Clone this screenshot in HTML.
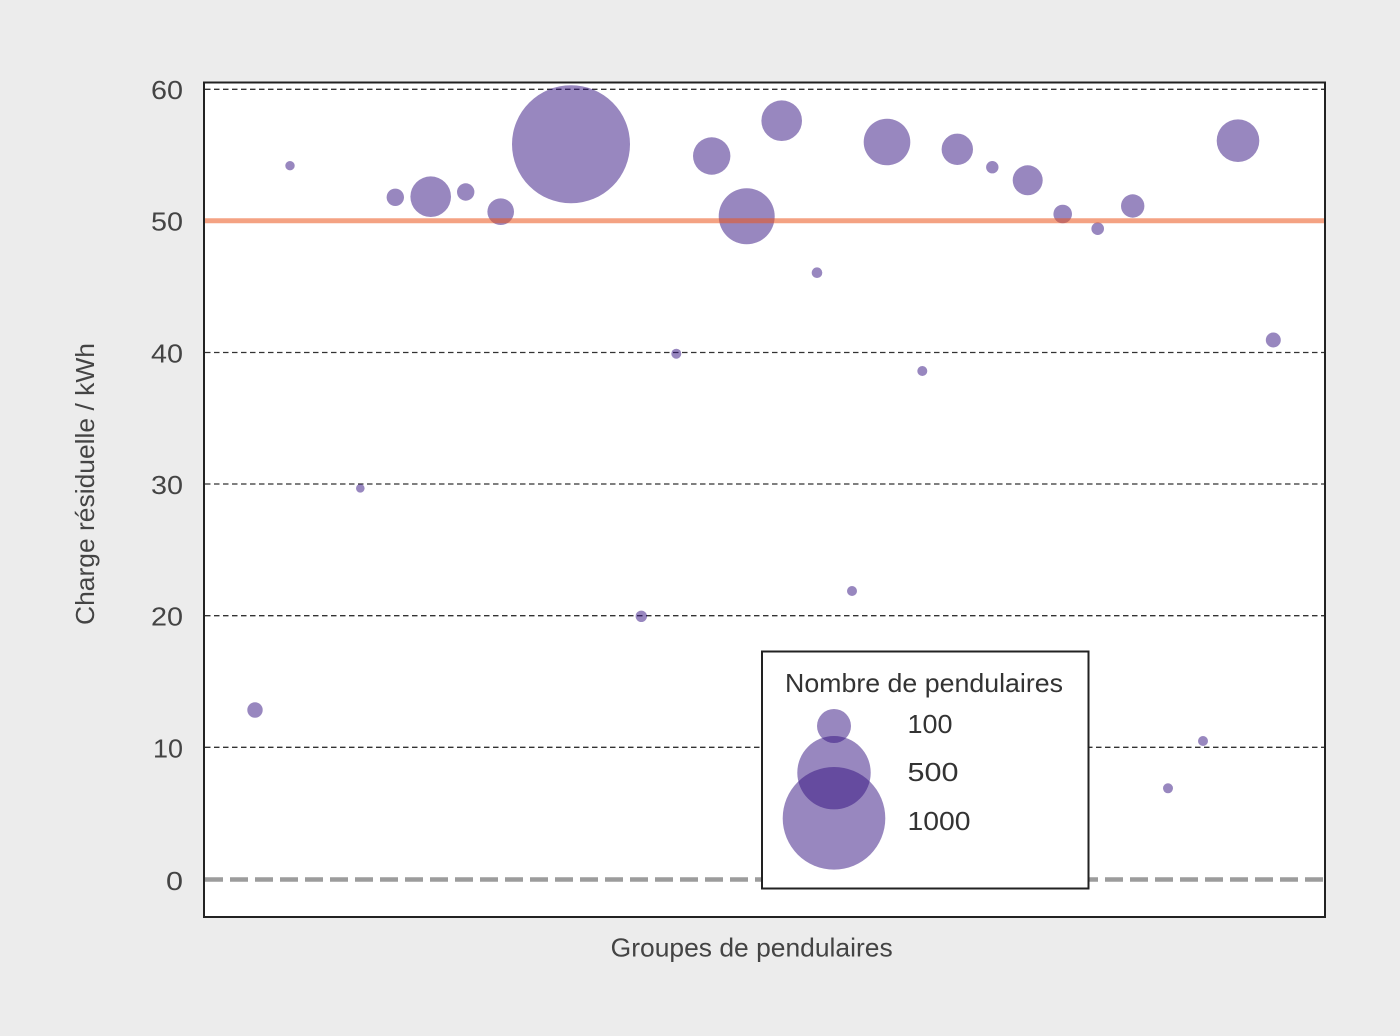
<!DOCTYPE html>
<html>
<head>
<meta charset="utf-8">
<style>
  html, body { margin: 0; padding: 0; background: #ececec; }
  svg { display: block; }
  text { font-family: "Liberation Sans", "DejaVu Sans", sans-serif; }
</style>
</head>
<body>
<svg width="1400" height="1036" viewBox="0 0 1400 1036" xmlns="http://www.w3.org/2000/svg">
  <rect x="0" y="0" width="1400" height="1036" fill="#ececec"/>
  <!-- plot area -->
  <rect x="204" y="82.5" width="1121" height="834.5" fill="#ffffff"/>

  <!-- grid lines -->
  <g stroke="#333" stroke-width="1.3" stroke-dasharray="5.5 3.5" fill="none">
    <line x1="205" y1="89.3" x2="1324" y2="89.3"/>
    <line x1="205" y1="352.5" x2="1324" y2="352.5"/>
    <line x1="205" y1="484" x2="1324" y2="484"/>
    <line x1="205" y1="615.7" x2="1324" y2="615.7"/>
    <line x1="205" y1="747.3" x2="1324" y2="747.3"/>
  </g>
  <!-- zero line -->
  <line x1="205" y1="879.5" x2="1324" y2="879.5" stroke="#9c9c9c" stroke-width="4.5" stroke-dasharray="18 7"/>

  <!-- bubbles -->
  <g fill="rgb(49,15,127)" fill-opacity="0.5">
    <circle cx="255" cy="710" r="7.7"/>
    <circle cx="290" cy="165.7" r="4.7"/>
    <circle cx="360.3" cy="488.3" r="4.3"/>
    <circle cx="395.3" cy="197.3" r="8.7"/>
    <circle cx="430.7" cy="196.7" r="20.3"/>
    <circle cx="465.7" cy="192" r="8.7"/>
    <circle cx="500.7" cy="211.7" r="13.3"/>
    <circle cx="571" cy="144.3" r="59"/>
    <circle cx="641.3" cy="616.3" r="5.7"/>
    <circle cx="676.3" cy="353.7" r="5"/>
    <circle cx="711.7" cy="156" r="18.7"/>
    <circle cx="746.7" cy="216.3" r="28"/>
    <circle cx="781.7" cy="120.7" r="20.3"/>
    <circle cx="817" cy="272.7" r="5.3"/>
    <circle cx="852" cy="591" r="5"/>
    <circle cx="887" cy="142" r="23.3"/>
    <circle cx="922.3" cy="371" r="5"/>
    <circle cx="957.3" cy="149.3" r="15.7"/>
    <circle cx="992.3" cy="167.2" r="6.2"/>
    <circle cx="1027.7" cy="180.3" r="15"/>
    <circle cx="1062.7" cy="214" r="9.3"/>
    <circle cx="1097.7" cy="228.7" r="6.3"/>
    <circle cx="1132.7" cy="206" r="11.7"/>
    <circle cx="1168" cy="788.3" r="5"/>
    <circle cx="1203" cy="741" r="5"/>
    <circle cx="1238" cy="140.7" r="21.3"/>
    <circle cx="1273.3" cy="340" r="7.5"/>
  </g>

  <!-- threshold line at 50 -->
  <line x1="204" y1="220.7" x2="1325" y2="220.7" stroke="rgb(235,85,30)" stroke-opacity="0.55" stroke-width="5"/>

  <!-- frame -->
  <rect x="204" y="82.5" width="1121" height="834.5" fill="none" stroke="#222" stroke-width="2"/>

  <!-- y tick labels -->
  <g font-size="26" fill="#444" text-anchor="end">
    <text x="183" y="99" textLength="32" lengthAdjust="spacingAndGlyphs">60</text>
    <text x="183" y="230.5" textLength="32" lengthAdjust="spacingAndGlyphs">50</text>
    <text x="183" y="362.3" textLength="32" lengthAdjust="spacingAndGlyphs">40</text>
    <text x="183" y="494" textLength="32" lengthAdjust="spacingAndGlyphs">30</text>
    <text x="183" y="625.7" textLength="32" lengthAdjust="spacingAndGlyphs">20</text>
    <text x="183" y="757.3" textLength="30" lengthAdjust="spacingAndGlyphs">10</text>
    <text x="183" y="890" textLength="17" lengthAdjust="spacingAndGlyphs">0</text>
  </g>

  <!-- axis labels -->
  <text x="0" y="0" font-size="26" fill="#444" text-anchor="middle" textLength="282" lengthAdjust="spacingAndGlyphs" transform="translate(94,484) rotate(-90)">Charge résiduelle / kWh</text>
  <text x="751.7" y="956.5" font-size="26" fill="#444" text-anchor="middle" textLength="282" lengthAdjust="spacingAndGlyphs">Groupes de pendulaires</text>

  <!-- legend -->
  <rect x="762" y="651.5" width="326.5" height="237" fill="#ffffff" stroke="#222" stroke-width="2"/>
  <text x="785" y="692" font-size="26" fill="#333" textLength="278" lengthAdjust="spacingAndGlyphs">Nombre de pendulaires</text>
  <g fill="rgb(49,15,127)" fill-opacity="0.5">
    <circle cx="834" cy="726" r="17"/>
    <circle cx="834" cy="772.7" r="36.7"/>
    <circle cx="834" cy="818.3" r="51.3"/>
  </g>
  <g font-size="26" fill="#333">
    <text x="907.5" y="733" textLength="45" lengthAdjust="spacingAndGlyphs">100</text>
    <text x="907.5" y="781" textLength="51" lengthAdjust="spacingAndGlyphs">500</text>
    <text x="907.5" y="830" textLength="63" lengthAdjust="spacingAndGlyphs">1000</text>
  </g>
</svg>
</body>
</html>
